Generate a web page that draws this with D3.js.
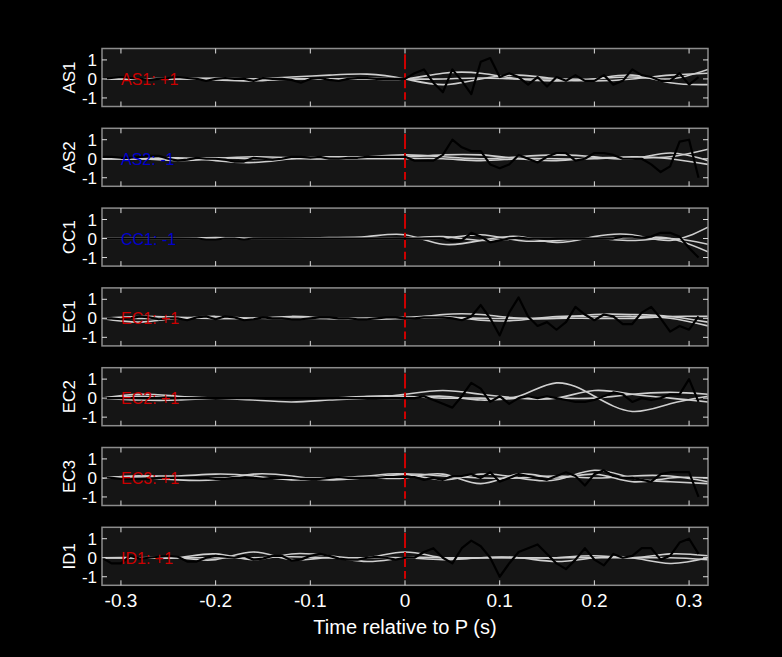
<!DOCTYPE html>
<html lang="en">
<head>
<meta charset="utf-8">
<script src="https://d3js.org/d3.v7.min.js"></script>
<style>
  body { margin: 0; background: #000; }
  text { font-family: "Liberation Sans", Arial, sans-serif; fill: #fff; }
</style>
</head>
<body>
<svg id="chart" width="782" height="657"></svg>
<script>
// stations and polarity labels
var stations = ["AS1", "AS2", "CC1", "EC1", "EC2", "EC3", "ID1"];
var polarity = ["+1", "-1", "-1", "+1", "+1", "+1", "+1"];
var xTicks = [-0.3, -0.2, -0.1, 0, 0.1, 0.2, 0.3];
var xTickLabels = ["-0.3", "-0.2", "-0.1", "0", "0.1", "0.2", "0.3"];
var yTicks = [-1, 0, 1];
var yTickLabels = ["-1", "0", "1"];

// black trace: t = -0.32 .. 0.31, step 0.01
var blackT = d3.range(64).map(function(i) { return Math.round((-0.32 + i * 0.01) * 100) / 100; });
var black = [
  [0,0.05,0.1,0.05,0,-0.05,0,0.05,0.1,0.05,0,-0.1,0,0.05,0,0,-0.1,0.05,0,0,-0.05,-0.2,0,0.05,-0.05,-0.1,0,0.05,0.05,0,0,0,
   0,0.3,0.5,-0.2,-0.7,0.5,-0.1,-0.8,0.9,1.1,0.1,0.3,0.1,-0.3,0.1,-0.4,0.1,-0.1,0.2,-0.1,-0.1,0.2,-0.3,-0.1,0.5,0.2,0.1,-0.1,-0.1,0.3,-0.3,0.1,0.4,-0.3],
  [0.1,0.1,0.05,0.05,0.1,0.15,0.15,0,-0.1,-0.05,0.05,0,0,-0.05,-0.15,-0.15,0.05,0,-0.05,0,0.1,0.1,0.05,0.1,0,0,0.05,0.05,0.1,0.1,0.1,0.1,
   0.1,-0.1,-0.1,-0.1,0.2,1.0,0.6,0.4,0.4,-0.3,-0.5,-0.3,0.2,0,-0.2,0.1,0.3,0.3,-0.1,0,0.3,0.3,0.2,0,0,0,-0.3,-0.7,-0.4,0.9,1.0,-1.0],
  [0,0,0,0,0,0,0,0,0,0,0,-0.05,-0.05,0,0,-0.05,0,0,0,0,0,0,0,0,0,0,0,0,0,0,0,0,
   0,0,0,0,0,-0.15,-0.1,0.3,0.1,-0.2,-0.1,0,0.05,0,0,0,0,0,0,0,0,0,0,0.1,0.1,0.05,0.1,0.3,0.3,0.1,-0.5,-1.0],
  [0,0,-0.05,0,0.1,0.05,-0.05,0,0,-0.1,0.05,0.1,-0.05,0.1,0.05,-0.1,-0.05,0.05,0,0,-0.05,-0.05,0,0.05,0.05,0,0,-0.05,-0.05,0,0.05,0.05,
   0,0,0.05,0.05,0.05,0,-0.1,0.1,0.7,0,-0.9,0.3,1.1,0.1,-0.4,-0.2,-0.6,-0.2,0.6,0.2,-0.1,0.2,0.1,-0.3,-0.3,0.3,0.6,0,-0.7,-0.4,-0.6,0.1],
  [0,0,0,0,0,0,0,0,0,0,0,0,0,0,0,0,0,0,0,0,0,0,0,0,0,0,0,0,0,0,0,0,
   0,0,0.1,-0.1,-0.3,-0.5,0.1,0.8,0.5,-0.2,0.1,-0.3,0,0.1,0,0.1,0,-0.1,-0.2,-0.2,-0.1,0.1,0.3,0.2,-0.2,0,-0.1,0,0.2,0.2,1.0,-0.2],
  [0.05,0,-0.05,-0.05,-0.05,-0.05,0,0,0,0,0,0,-0.05,-0.05,0,0,0,-0.05,0,0,0,-0.05,-0.05,-0.05,0,0.05,0,0,0,0,0.05,0.05,
   0.05,0.05,-0.1,0,-0.1,0.1,0.1,0.2,0,0.3,-0.2,0,0.2,0.1,0,-0.1,0.1,0.3,0.1,-0.4,0.2,0.4,0.1,0,0,-0.1,-0.2,0.2,0.3,0.3,0.3,-1.0],
  [0,-0.3,-0.3,0.1,-0.05,0,0.05,0.1,0.05,-0.2,-0.2,0,0.1,0.05,0,0.1,-0.1,-0.05,0.1,0.1,-0.15,-0.1,0.1,0.2,0.1,-0.05,-0.1,-0.1,0,0.05,0,-0.1,
   0,0,0.3,0.5,0,-0.3,0.5,0.9,0.6,0,-1.0,-0.3,0.3,0.5,0.7,0.2,-0.3,-0.6,-0.1,0.5,-0.1,-0.4,0.2,0,0.1,0.5,0.5,-0.1,0.1,0.8,1.0,0.2]
];

// grey traces: t = -0.32 .. 0.32, step 0.04
var greyT = d3.range(17).map(function(i) { return Math.round((-0.32 + i * 0.04) * 100) / 100; });
var grey = [
  [[0,0,0.05,0,0,0.1,0.2,0.25,0,-0.3,0,0.2,0,-0.1,0,0.2,0.3],
   [0,0,0,-0.05,-0.1,0,0,0,0,0.3,0.3,0,-0.1,0,0.2,-0.2,-0.3],
   [0,0,0,0.05,0,0,0,0.05,0,0,0.05,0,0,0,0.1,0,0.5]],
  [[0,0,0.05,-0.1,-0.2,0,0.1,0.1,0.1,0.2,0.2,0,-0.1,0.05,0.05,0.1,0.5],
   [0,0,0,0.05,0,0,0,0.1,0.2,0.1,0,0.1,0.2,0.1,0,0.3,-0.1],
   [0,0,-0.1,0,0.1,0.05,0,0,0,0,-0.1,0,0,0,0.1,0,-0.3]],
  [[0,0,0,0.05,0,0,0.05,0.1,0.2,-0.3,-0.1,0.1,-0.2,0.1,0.2,-0.1,0.6],
   [0,0,0,0,0,0,0,0,0,0,0.2,-0.1,-0.1,0,-0.1,0,-0.3],
   [0,0,0,0,0,0,0,0,0,0.1,-0.1,0,0,0,0.05,0,-0.7]],
  [[0,-0.2,0,0,0,0,0,0,0,0.2,0.2,0,0,0.2,0.2,0.1,-0.2],
   [0,0.1,0.05,0,0,0,0,-0.05,0.05,0.1,-0.1,-0.1,0.1,0.1,0.1,0,-0.4],
   [0,0,0,0.1,0,0.1,0,0,0,0.05,0,0,0,0,0,0.1,0.1]],
  [[0,0.2,0.1,0,-0.1,-0.2,-0.1,0,0.2,0.4,0.2,0,0,0.4,0.2,0,-0.2],
   [0,0.1,0,0,0,0,0,0.1,0.1,0,0,0.1,0.8,0.1,-0.7,-0.3,0.1],
   [0,-0.1,-0.1,0,0,0,0,0,0,0.1,-0.1,0,0,0,0.2,0.3,0.2]],
  [[0,0.1,0.1,0.2,0.1,-0.1,0,0.1,0.2,-0.1,0.2,0,-0.1,0.4,0,-0.2,-0.3],
   [0,0,-0.1,-0.1,0.2,0.1,-0.1,0,0,0.2,-0.3,0.2,0,0.2,-0.2,0,0],
   [0,0.1,0,0,0,0,0,0,0.2,0.1,0,0,0.1,0,0.1,0.1,-0.2]],
  [[0,0,0,0.2,-0.1,0.2,0.1,0,0.3,0,0,0,-0.2,0,0,-0.3,0],
   [0,0,0,-0.1,0.3,-0.1,0,-0.2,0,0,0,0,0,0.1,0,0.2,0.1],
   [0,0,0,0,0,0.05,0,0,0,-0.1,0,0,0,0,0,0,-0.1]]
];

var svg = d3.select("#chart");
var left = 102, right = 708, top0 = 48.5, step = 79.8, ph = 58;

var x = d3.scaleLinear().domain([-0.32, 0.32]).range([left, right]);

stations.forEach(function(name, k) {
  var t = top0 + k * step;
  var y = d3.scaleLinear().domain([-1.45, 1.6]).range([t + ph, t]);
  var g = svg.append("g");

  g.append("rect").attr("x", left).attr("y", t).attr("width", right - left).attr("height", ph)
    .attr("fill", "#151515");

  var clipId = "clip" + k;
  g.append("clipPath").attr("id", clipId).append("rect")
    .attr("x", left).attr("y", t).attr("width", right - left).attr("height", ph);
  var plot = g.append("g").attr("clip-path", "url(#" + clipId + ")");

  var greyLine = d3.line().curve(d3.curveNatural)
    .x(function(d, i) { return x(greyT[i]); }).y(function(d) { return y(d); });
  grey[k].forEach(function(s) {
    plot.append("path").attr("d", greyLine(s)).attr("fill", "none")
      .attr("stroke", "#cfcfcf").attr("stroke-width", 1.6);
  });

  plot.append("line").attr("x1", x(0)).attr("x2", x(0)).attr("y1", y(1.3)).attr("y2", y(-1.1))
    .attr("stroke", "#cc0000").attr("stroke-width", 2).attr("stroke-dasharray", "15,4");

  var blackLine = d3.line()
    .x(function(d, i) { return x(blackT[i]); }).y(function(d) { return y(d); });
  plot.append("path").attr("d", blackLine(black[k])).attr("fill", "none")
    .attr("stroke", "#000").attr("stroke-width", 2.2).attr("stroke-linejoin", "round");

  g.append("text").attr("x", 121).attr("y", y(0) + 6)
    .style("font-size", "16px")
    .style("fill", polarity[k] === "+1" ? "#cc0000" : "#0000cc")
    .text(name + ": " + polarity[k]);

  // frame
  g.append("rect").attr("x", left).attr("y", t).attr("width", right - left).attr("height", ph)
    .attr("fill", "none").attr("stroke", "#8c8c8c").attr("stroke-width", 1.5);

  // inner ticks
  xTicks.forEach(function(v) {
    g.append("line").attr("x1", x(v)).attr("x2", x(v)).attr("y1", t).attr("y2", t + 5).attr("stroke", "#ddd");
    g.append("line").attr("x1", x(v)).attr("x2", x(v)).attr("y1", t + ph).attr("y2", t + ph - 5).attr("stroke", "#ddd");
  });
  yTicks.forEach(function(v, i) {
    g.append("line").attr("x1", left).attr("x2", left + 5).attr("y1", y(v)).attr("y2", y(v)).attr("stroke", "#ddd");
    g.append("line").attr("x1", right).attr("x2", right - 5).attr("y1", y(v)).attr("y2", y(v)).attr("stroke", "#ddd");
    g.append("text").attr("x", 97).attr("y", y(v) + 6).attr("text-anchor", "end")
      .style("font-size", "17px").text(yTickLabels[i]);
  });

  g.append("text").attr("transform", "translate(75," + (t + ph / 2) + ") rotate(-90)")
    .attr("text-anchor", "middle").style("font-size", "17px").text(name);

  if (k === stations.length - 1) {
    xTicks.forEach(function(v, i) {
      g.append("text").attr("x", x(v)).attr("y", t + ph + 22).attr("text-anchor", "middle")
        .style("font-size", "19px").text(xTickLabels[i]);
    });
  }
});

svg.append("text").attr("x", x(0)).attr("y", 634).attr("text-anchor", "middle")
  .style("font-size", "20px").text("Time relative to P (s)");
</script>
</body>
</html>
